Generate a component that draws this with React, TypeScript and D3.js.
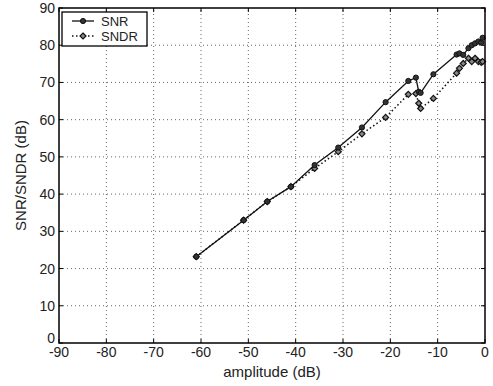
import React from 'react';
import * as d3 from 'd3';

const amplitude = [-61, -51, -46, -41, -36, -31, -26, -21, -16.2, -14.6, -14, -13.6, -10.9, -6, -5.4, -4.6, -3.5, -2.8, -2.1, -1.4, -0.8, -0.5];
const snr = [23.2, 33, 38, 42, 47.8, 52.5, 57.9, 64.7, 70.4, 71.3, 67.5, 67.2, 72.2, 77.5, 77.8, 77.4, 79.2, 80, 80.5, 81, 80.7, 82];
const sndr = [23.2, 33, 38, 42, 46.9, 51.4, 56.2, 60.6, 66.8, 67, 64.4, 63, 65.7, 72.5, 73.8, 75.1, 76.5, 75.6, 76.5, 75.6, 75.4, 75.6];

const xTicks = [-90, -80, -70, -60, -50, -40, -30, -20, -10, 0];
const yTicks = [0, 10, 20, 30, 40, 50, 60, 70, 80, 90];

const width = 493;
const height = 386;
const margin = { top: 8, right: 8, bottom: 43, left: 59 };
const font = "'Liberation Sans', Arial, sans-serif";
const ink = '#222';

function diamond(cx: number, cy: number, r: number) {
  return `M${cx},${cy - r}L${cx + r},${cy}L${cx},${cy + r}L${cx - r},${cy}Z`;
}

export default function App() {
  const x = d3.scaleLinear().domain([-90, 0]).range([margin.left, width - margin.right]);
  const y = d3.scaleLinear().domain([0, 90]).range([height - margin.bottom, margin.top]);

  const snrPts = amplitude.map((a, i) => [a, snr[i]] as [number, number]);
  const sndrPts = amplitude.map((a, i) => [a, sndr[i]] as [number, number]);

  const line = d3
    .line<[number, number]>()
    .x((d) => x(d[0]))
    .y((d) => y(d[1]));

  const x0 = x(-90);
  const x1 = x(0);
  const y0 = y(0);
  const y1 = y(90);

  return (
    <svg width={width} height={height} style={{ position: 'absolute', left: 0, top: 0, background: '#fff' }}>
      {/* grid */}
      <g stroke="#666" strokeWidth={1} strokeDasharray="1,3">
        {xTicks.slice(1, -1).map((t) => (
          <line key={'gx' + t} x1={x(t)} x2={x(t)} y1={y0} y2={y1} />
        ))}
        {yTicks.slice(1, -1).map((t) => (
          <line key={'gy' + t} x1={x0} x2={x1} y1={y(t)} y2={y(t)} />
        ))}
      </g>

      {/* inner ticks */}
      <g stroke="#000" strokeWidth={1}>
        {xTicks.map((t) => (
          <g key={'tx' + t}>
            <line x1={x(t)} x2={x(t)} y1={y0} y2={y0 - 4} />
            <line x1={x(t)} x2={x(t)} y1={y1} y2={y1 + 4} />
          </g>
        ))}
        {yTicks.map((t) => (
          <g key={'ty' + t}>
            <line x1={x0} x2={x0 + 4} y1={y(t)} y2={y(t)} />
            <line x1={x1} x2={x1 - 4} y1={y(t)} y2={y(t)} />
          </g>
        ))}
      </g>

      {/* SNDR dotted with diamonds */}
      <path d={line(sndrPts) || ''} fill="none" stroke="#111" strokeWidth={1.5} strokeDasharray="1.5,2.5" />
      {sndrPts.map((d, i) => (
        <path key={'d' + i} d={diamond(x(d[0]), y(d[1]), 3)} fill="#888" stroke="#111" strokeWidth={1.2} />
      ))}

      {/* SNR solid with dots */}
      <path d={line(snrPts) || ''} fill="none" stroke="#111" strokeWidth={1.3} />
      {snrPts.map((d, i) => (
        <circle key={'c' + i} cx={x(d[0])} cy={y(d[1])} r={2.6} fill="#333" stroke="#111" strokeWidth={1} />
      ))}

      {/* axes box */}
      <rect x={x0} y={y1} width={x1 - x0} height={y0 - y1} fill="none" stroke="#000" strokeWidth={1.5} />

      {/* tick labels */}
      <g fontFamily={font} fontSize={14} fill={ink}>
        {xTicks.map((t) => (
          <text key={'lx' + t} x={x(t)} y={y0 + 14} textAnchor="middle">
            {t}
          </text>
        ))}
        {yTicks.map((t) => (
          <text key={'ly' + t} x={x0 - 4} y={y(t) - (t === 0 ? 5 : 0) + 5} textAnchor="end">
            {t}
          </text>
        ))}
      </g>

      {/* axis titles */}
      <text x={(x0 + x1) / 2} y={y0 + 34} textAnchor="middle" fontFamily={font} fontSize={15} fill={ink}>
        amplitude (dB)
      </text>
      <text
        transform={`translate(${26},${(y0 + y1) / 2}) rotate(-90)`}
        textAnchor="middle"
        fontFamily={font}
        fontSize={15}
        fill={ink}
      >
        SNR/SNDR (dB)
      </text>

      {/* legend */}
      <g>
        <rect x={62} y={12} width={85} height={34} fill="#fff" stroke="#000" strokeWidth={1.3} />
        <line x1={72} x2={94} y1={21} y2={21} stroke="#111" strokeWidth={1.3} />
        <circle cx={83} cy={21} r={2.6} fill="#333" stroke="#111" />
        <line x1={72} x2={94} y1={36} y2={36} stroke="#111" strokeWidth={1.5} strokeDasharray="1.5,2.5" />
        <path d={diamond(83, 36, 3)} fill="#888" stroke="#111" strokeWidth={1.2} />
        <text x={101} y={25.5} fontFamily={font} fontSize={13} fill={ink}>SNR</text>
        <text x={101} y={40.5} fontFamily={font} fontSize={13} fill={ink}>SNDR</text>
      </g>
    </svg>
  );
}
